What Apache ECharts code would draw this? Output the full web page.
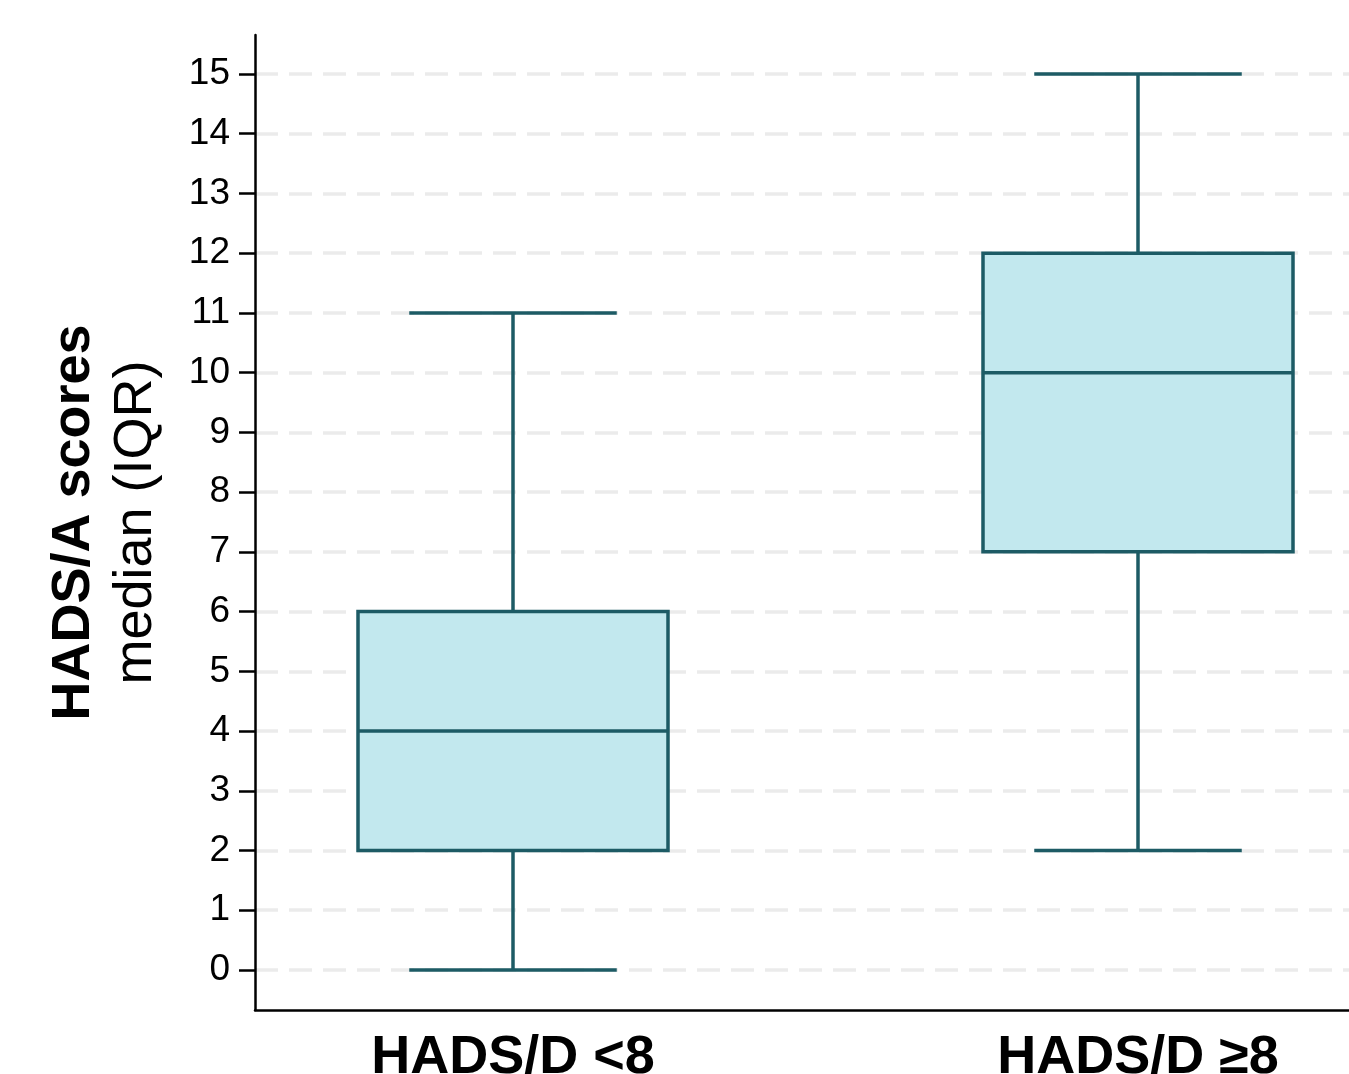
<!DOCTYPE html>
<html>
<head>
<meta charset="utf-8">
<title>HADS/A scores by HADS/D group</title>
<script src="https://cdn.jsdelivr.net/npm/echarts@6/dist/echarts.min.js"></script>
<style>
  html, body { margin: 0; padding: 0; background: #fff; overflow: hidden; }
  #chart { width: 1349px; height: 1074px; }
</style>
</head>
<body>
<div id="chart"></div>
<script>
// Groups along the x axis
var categories = ['HADS/D <8', 'HADS/D \u22658'];
// Five-number summaries per group
var whiskerLow = [0, 2];
var quartile1 = [2, 7];
var medians = [4, 10];
var quartile3 = [6, 12];
var whiskerHigh = [11, 15];
// Tick labels on the score axis
var yTicks = [0, 1, 2, 3, 4, 5, 6, 7, 8, 9, 10, 11, 12, 13, 14, 15];

var STROKE = '#1d5b65';
var FILL = '#c2e8ee';
var BOX_HALF = 0.248;   // half box width, in x-axis units
var CAP_HALF = 0.166;   // half whisker-cap width, in x-axis units

var boxData = categories.map(function (c, i) {
  return [i + 1, whiskerLow[i], quartile1[i], medians[i], quartile3[i], whiskerHigh[i]];
});

function renderBox(params, api) {
  var x = api.value(0);
  var lo = api.value(1), q1 = api.value(2), md = api.value(3), q3 = api.value(4), hi = api.value(5);
  var pLo = api.coord([x, lo]);
  var pHi = api.coord([x, hi]);
  var pQ1L = api.coord([x - BOX_HALF, q1]);
  var pQ3R = api.coord([x + BOX_HALF, q3]);
  var pMdL = api.coord([x - BOX_HALF, md]);
  var pMdR = api.coord([x + BOX_HALF, md]);
  var capLoL = api.coord([x - CAP_HALF, lo]);
  var capLoR = api.coord([x + CAP_HALF, lo]);
  var capHiL = api.coord([x - CAP_HALF, hi]);
  var capHiR = api.coord([x + CAP_HALF, hi]);
  var pQ1 = api.coord([x, q1]);
  var pQ3 = api.coord([x, q3]);
  var line = { stroke: STROKE, lineWidth: 3.5, lineCap: 'butt' };
  return {
    type: 'group',
    children: [
      { type: 'line', shape: { x1: pQ3[0], y1: pQ3[1], x2: pHi[0], y2: pHi[1] }, style: line },
      { type: 'line', shape: { x1: pQ1[0], y1: pQ1[1], x2: pLo[0], y2: pLo[1] }, style: line },
      { type: 'line', shape: { x1: capHiL[0], y1: capHiL[1], x2: capHiR[0], y2: capHiR[1] }, style: line },
      { type: 'line', shape: { x1: capLoL[0], y1: capLoL[1], x2: capLoR[0], y2: capLoR[1] }, style: line },
      {
        type: 'rect',
        shape: { x: pQ1L[0], y: pQ3R[1], width: pQ3R[0] - pQ1L[0], height: pQ1L[1] - pQ3R[1] },
        style: { fill: FILL, stroke: STROKE, lineWidth: 3.5 }
      },
      { type: 'line', shape: { x1: pMdL[0], y1: pMdL[1], x2: pMdR[0], y2: pMdR[1] }, style: line }
    ]
  };
}

var FONT = 'Liberation Sans, Arial, sans-serif';

var chart = echarts.init(document.getElementById('chart'), null, { renderer: 'canvas' });
chart.setOption({
  backgroundColor: '#ffffff',
  animation: false,
  grid: { left: 255, top: 35, right: 0, bottom: 64, containLabel: false, outerBoundsMode: 'none' },
  xAxis: {
    type: 'value',
    min: 0.5872,
    max: 2.3376,
    axisLine: { show: true, onZero: false, lineStyle: { color: '#000', width: 2.5 } },
    axisTick: { show: false },
    splitLine: { show: false },
    axisLabel: {
      customValues: [1, 2],
      formatter: function (v) { return categories[Math.round(v) - 1] || ''; },
      margin: 21,
      color: '#000',
      fontFamily: FONT,
      fontWeight: 'bold',
      fontSize: 54
    }
  },
  yAxis: {
    type: 'value',
    min: -0.670,
    max: 15.653,
    name: '{b|HADS/A scores}\n{r|median (IQR)}',
    nameLocation: 'middle',
    nameGap: 88,
    nameRotate: 90,
    nameTextStyle: {
      color: '#000',
      fontFamily: FONT,
      align: 'center',
      rich: {
        b: { fontSize: 54, fontWeight: 'bold', lineHeight: 62, color: '#000', fontFamily: FONT },
        r: { fontSize: 54, fontWeight: 'normal', lineHeight: 62, color: '#000', fontFamily: FONT }
      }
    },
    axisLine: { show: true, onZero: false, lineStyle: { color: '#000', width: 2.5 } },
    axisTick: { show: true, customValues: yTicks, length: 16, lineStyle: { color: '#000', width: 2.5 } },
    axisLabel: {
      customValues: yTicks,
      margin: 25,
      color: '#000',
      fontFamily: FONT,
      fontSize: 37
    },
    splitLine: {
      show: true,
      lineStyle: { color: '#ebebeb', width: 3.5, type: [23, 11] }
    }
  },
  series: [{
    type: 'custom',
    renderItem: renderBox,
    encode: { x: 0, y: [1, 2, 3, 4, 5] },
    data: boxData,
    z: 5
  }]
});
</script>
</body>
</html>
